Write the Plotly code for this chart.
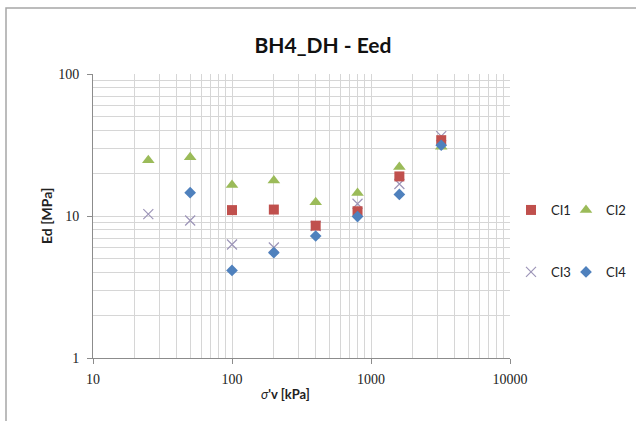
import plotly.graph_objects as go

# Vertical effective stress steps [kPa]
stress = [25, 50, 100, 200, 400, 800, 1600, 3200]

# Oedometer modulus Ed [MPa] per sample (None = no reading at that step)
ci1 = [None, None, 11.0, 11.1, 8.55, 10.8, 19.0, 34.2]
ci2 = [24.7, 25.9, 16.5, 17.8, 12.5, 14.5, 22.1, 30.8]
ci3 = [10.3, 9.3, 6.3, 6.0, 8.5, 12.2, 16.8, 36.5]
ci4 = [None, 14.6, 4.14, 5.52, 7.23, 9.9, 14.2, 31.5]

x_ticks = [10, 100, 1000, 10000]
y_ticks = [1, 10, 100]

RED = "#C0504D"
GREEN = "#9BBB59"
LILAC = "#9D95B8"
BLUE = "#4F81BD"

W, H = 636, 421
L, R, T, B = 93, 126, 74, 63
PW, PH = W - L - R, H - T - B


def px_x(p):
    return (p - L) / PW


def px_y(p):
    return (H - B - p) / PH


fig = go.Figure()

# drawing order keeps squares above triangles and crosses, diamonds on top
fig.add_trace(go.Scatter(
    x=stress, y=ci2, mode="markers", name="CI2", legend="legend2",
    marker=dict(symbol="triangle-up", size=11, color=GREEN)))
fig.add_trace(go.Scatter(
    x=stress, y=ci3, mode="markers", name="CI3", legend="legend3",
    marker=dict(symbol="x-thin", size=10, color=LILAC,
                line=dict(width=1.2, color=LILAC))))
fig.add_trace(go.Scatter(
    x=stress, y=ci1, mode="markers", name="CI1", legend="legend",
    marker=dict(symbol="square", size=10, color=RED)))
fig.add_trace(go.Scatter(
    x=stress, y=ci4, mode="markers", name="CI4", legend="legend4",
    marker=dict(symbol="diamond", size=9, color=BLUE)))

sans = "Lato, Open Sans, sans-serif"
leg_font = dict(family=sans, size=13, color="#222")
leg_common = dict(font=leg_font, bgcolor="rgba(0,0,0,0)", xanchor="left",
                  yanchor="middle", itemwidth=30, tracegroupgap=0)
col1, col2 = 511, 566
row1, row2 = 210, 272

grid_c = "#D6D6D6"
axis_c = "#8C8C8C"
tick_font = dict(family="Liberation Serif, serif", size=14, color="#222")

fig.update_layout(
    width=W, height=H,
    margin=dict(l=L, r=R, t=T, b=B, autoexpand=False),
    paper_bgcolor="white", plot_bgcolor="white",
    title=dict(text="<b>BH4_DH - Eed</b>", x=323 / W, xanchor="center",
               y=1 - 46 / H, yanchor="middle",
               font=dict(family=sans, size=21, color="#111")),
    showlegend=True,
    legend=dict(x=px_x(col1), y=px_y(row1), **leg_common),
    legend2=dict(x=px_x(col2), y=px_y(row1), **leg_common),
    legend3=dict(x=px_x(col1), y=px_y(row2), **leg_common),
    legend4=dict(x=px_x(col2), y=px_y(row2), **leg_common),
    xaxis=dict(
        type="log", range=[1, 4], tickvals=x_ticks,
        ticktext=[str(v) for v in x_ticks],
        showline=True, linecolor=axis_c, linewidth=1,
        ticks="outside", ticklen=5, tickcolor=axis_c,
        showgrid=True, gridcolor=grid_c, gridwidth=1,
        minor=dict(dtick="D1", showgrid=True, gridcolor=grid_c, ticks=""),
        tickfont=tick_font, ticklabelstandoff=3, zeroline=False,
    ),
    yaxis=dict(
        type="log", range=[0, 2], tickvals=y_ticks,
        ticktext=[str(v) for v in y_ticks],
        showline=True, linecolor=axis_c, linewidth=1,
        ticks="outside", ticklen=5, tickcolor=axis_c,
        showgrid=True, gridcolor=grid_c, gridwidth=1,
        minor=dict(dtick="D1", showgrid=True, gridcolor=grid_c, ticks=""),
        tickfont=tick_font, ticklabelstandoff=5, zeroline=False,
    ),
    annotations=[
        dict(text="<b>Ed [MPa]</b>", xref="paper", yref="paper",
             x=px_x(46), y=px_y(216), textangle=-90, showarrow=False,
             xanchor="center", yanchor="middle",
             font=dict(family=sans, size=14, color="#222")),
        dict(text="<i>σ</i><b>'v [kPa]</b>", xref="paper", yref="paper",
             x=px_x(285), y=px_y(394), showarrow=False,
             xanchor="center", yanchor="middle",
             font=dict(family=sans, size=13, color="#222")),
    ],
    shapes=[
        # chart frame (only top and left edges fall inside the page)
        dict(type="rect", xref="paper", yref="paper",
             x0=px_x(6), x1=px_x(W + 20), y0=px_y(H + 20), y1=px_y(8),
             line=dict(color="#A6A6A6", width=1.5), layer="below"),
    ],
)

fig.write_html("out.html")
